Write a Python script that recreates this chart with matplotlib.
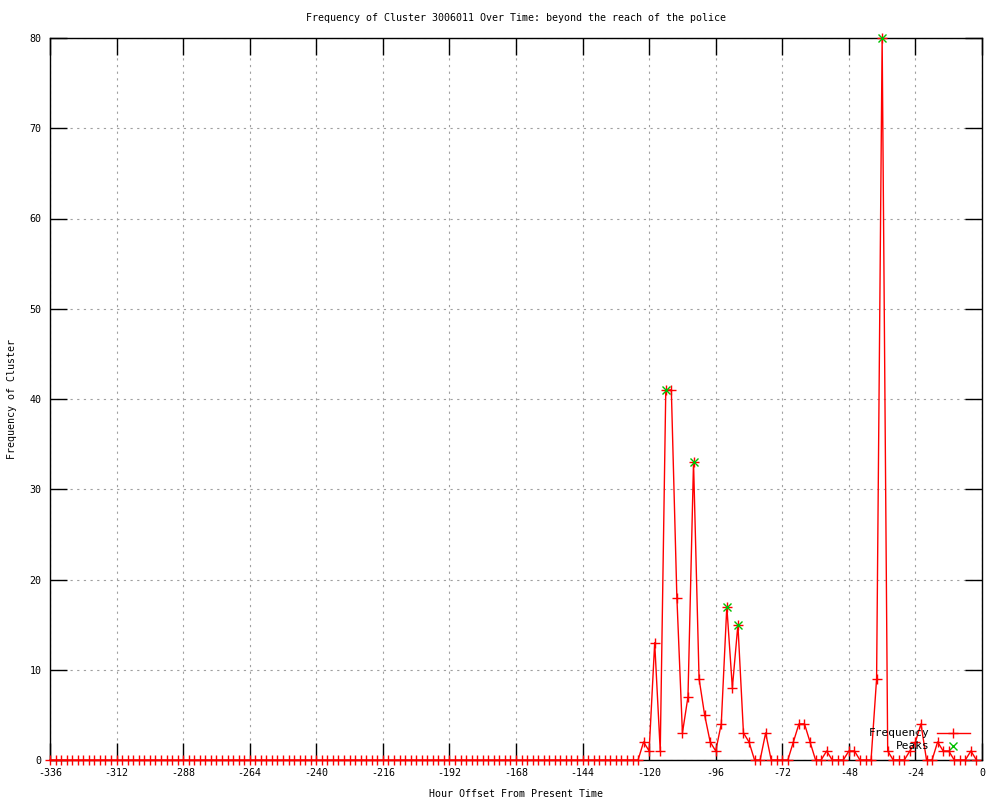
import matplotlib
matplotlib.use("Agg")
import matplotlib.pyplot as plt

# hours before now, sampled every 2 hours
hours = list(range(-336, 0, 2))
frequency = [
	0, 0, 0, 0, 0, 0, 0, 0, 0, 0, 0, 0, 0, 0, 0, 0, 0, 0, 0, 0,
	0, 0, 0, 0, 0, 0, 0, 0, 0, 0, 0, 0, 0, 0, 0, 0, 0, 0, 0, 0,
	0, 0, 0, 0, 0, 0, 0, 0, 0, 0, 0, 0, 0, 0, 0, 0, 0, 0, 0, 0,
	0, 0, 0, 0, 0, 0, 0, 0, 0, 0, 0, 0, 0, 0, 0, 0, 0, 0, 0, 0,
	0, 0, 0, 0, 0, 0, 0, 0, 0, 0, 0, 0, 0, 0, 0, 0, 0, 0, 0, 0,
	0, 0, 0, 0, 0, 0, 0,
	2, 1, 13, 1, 41, 41, 18, 3, 7, 33,
	9, 5, 2, 1, 4, 17, 8, 15, 3, 2,
	0, 0, 3, 0, 0, 0, 0, 2, 4, 4,
	2, 0, 0, 1, 0, 0, 0, 1, 1, 0,
	0, 0, 9, 80, 1, 0, 0, 0, 1, 2,
	4, 0, 0, 2, 1, 1, 0, 0, 0, 1,
	0,
]
peak_hours = [-114, -104, -92, -88, -36]
peak_values = [41, 33, 17, 15, 80]

title = "Frequency of Cluster 3006011 Over Time: beyond the reach of the police"
x_ticks = list(range(-336, 1, 24))
y_ticks = list(range(0, 81, 10))

plt.rcParams['font.family'] = ['DejaVu Sans Mono']
plt.rcParams['font.size'] = 7.2
plt.rcParams['axes.unicode_minus'] = False

fig = plt.figure(figsize=(10, 8), dpi=100)
ax = fig.add_axes([0.05, 0.05, 0.932, 0.9025])

ax.plot(hours, frequency, color='#ff0000', lw=1, marker='+', ms=7, mew=1, zorder=3, clip_on=False)
ax.plot(peak_hours, peak_values, ls='none', color='#00c000', marker='x', ms=6, mew=1, zorder=4, clip_on=False)

ax.set_xlim(-336, 0)
ax.set_ylim(0, 80)
ax.set_xticks(x_ticks)
ax.set_yticks(y_ticks)
ax.tick_params(direction='in', length=12, width=1, top=True, right=True, pad=6)
ax.grid(True, color='#a0a0a0', ls=(0, (2, 4)), lw=0.8)
for s in ax.spines.values():
	s.set_linewidth(1)

ax.set_title(title, fontsize=7.2, pad=12)
ax.set_xlabel("Hour Offset From Present Time", labelpad=8)
ax.set_ylabel("Frequency of Cluster", labelpad=9)

# legend drawn gnuplot-style: text right-aligned, sample after it
ax.text(0.944, 0.0374, "Frequency", transform=ax.transAxes, ha='right', va='center', fontsize=8)
ax.plot([0.952, 0.987], [0.0374, 0.0374], color='#ff0000', lw=1, transform=ax.transAxes, clip_on=False)
ax.plot([0.969], [0.0374], color='#ff0000', marker='+', ms=7, transform=ax.transAxes, clip_on=False)
ax.text(0.944, 0.0194, "Peaks", transform=ax.transAxes, ha='right', va='center', fontsize=8)
ax.plot([0.969], [0.0194], color='#00c000', marker='x', ms=6, ls='none', transform=ax.transAxes, clip_on=False)

fig.savefig('out.png', dpi=100)
